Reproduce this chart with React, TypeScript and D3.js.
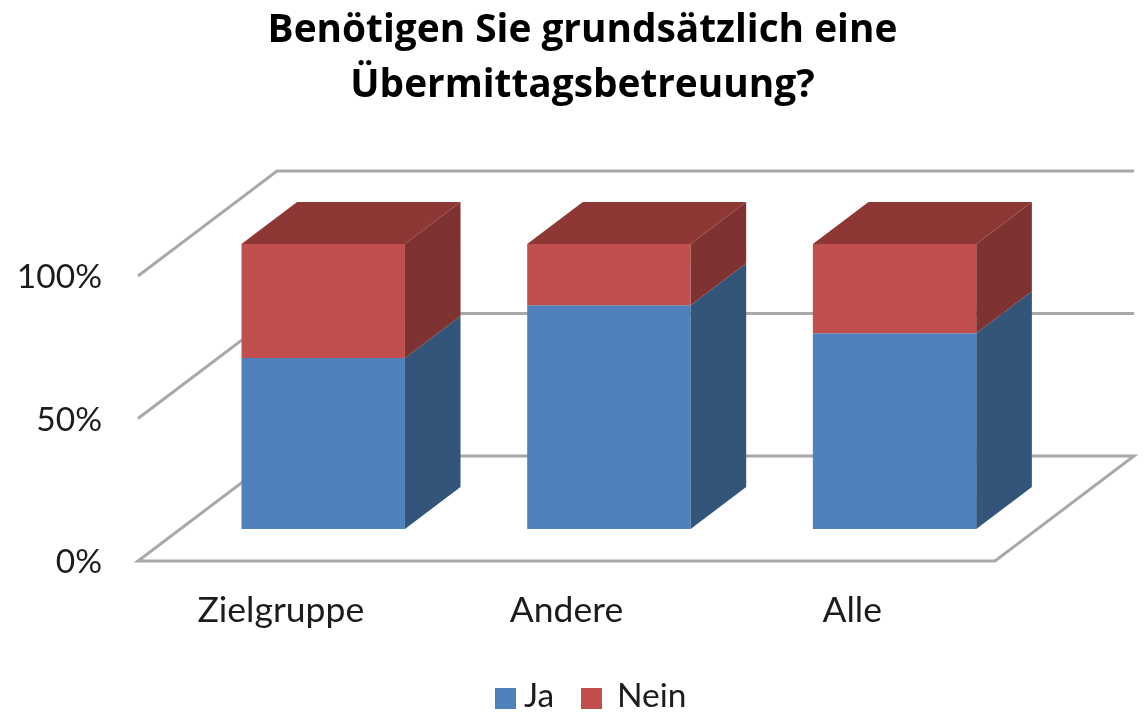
import React, { useEffect, useRef } from "react"
import * as d3 from "d3"

const categories = ["Zielgruppe", "Andere", "Alle"]
const seriesNames = ["Ja", "Nein"]
const jaValues = [60, 78.5, 68.7]
const neinValues = [40, 21.5, 31.3]
const yTicks = [0, 50, 100]
const titleLines = ["Benötigen Sie grundsätzlich eine", "Übermittagsbetreuung?"]

const colors: any = {
  Ja: { front: "#4f81bd", side: "#335479" },
  Nein: { front: "#c0504d", side: "#7f3230", top: "#8d3735" },
}
const gridColor = "#a9a9a9"
const textColor = "#1c1c1c"
const font = "Lato, 'Open Sans', sans-serif"

export default function App() {
  const ref = useRef<SVGSVGElement>(null)

  useEffect(() => {
    const root = d3.select(ref.current)
    root.selectAll("*").remove()

    // the reference is a slightly soft upscaled screenshot
    root.append("defs").append("filter").attr("id", "soft")
      .append("feGaussianBlur").attr("stdDeviation", 0.6)
    const svg = root.append("g").attr("filter", "url(#soft)")
    svg.append("rect").attr("width", 1146).attr("height", 714).attr("fill", "#fff")

    const x = d3.scaleBand().domain(categories).range([138, 995]).paddingInner(0.428).paddingOuter(0.214)
    const y = d3.scaleLinear().domain([0, 100]).range([561, 276])
    // oblique depth: 0 = front edge of the floor, 1 = back wall
    const dx = d3.scaleLinear().domain([0, 1]).range([0, 139])
    const dy = d3.scaleLinear().domain([0, 1]).range([0, -105])
    const pt = (px: number, v: number, d: number): [number, number] => [px + dx(d), y(v) + dy(d)]
    const line = d3.line()
    const barFront = 0.305
    const barBack = 0.705

    const rows = categories.map((c, i) => ({ category: c, Ja: jaValues[i], Nein: neinValues[i] }))
    const stacked = d3.stack().keys(seriesNames)(rows as any)

    const [x0, x1] = x.range()
    const grid = svg.append("g").attr("fill", "none").attr("stroke", gridColor).attr("stroke-width", 3)
    yTicks.forEach((t) => {
      if (t === 0) return
      grid.append("path").attr("d", line([pt(x0, t, 0), pt(x0, t, 1), pt(x1, t, 1)]))
    })
    grid.append("path").attr("d", line([pt(x0, 0, 1), pt(x0, 0, 0), pt(x1, 0, 0), pt(x1, 0, 1), pt(x0, 0, 1)]) + "Z")

    const bars = svg.append("g")
    stacked.forEach((layer: any) => {
      const name = layer.key
      layer.forEach((d: any) => {
        const left = x(d.data.category) as number
        const right = left + x.bandwidth()
        // front
        bars.append("path").attr("fill", colors[name].front)
          .attr("d", line([pt(left, d[0], barFront), pt(right, d[0], barFront), pt(right, d[1], barFront), pt(left, d[1], barFront)]) + "Z")
        // side
        bars.append("path").attr("fill", colors[name].side)
          .attr("d", line([pt(right, d[0], barFront), pt(right, d[0], barBack), pt(right, d[1], barBack), pt(right, d[1], barFront)]) + "Z")
        // top, only the last series shows it
        if (colors[name].top) {
          bars.append("path").attr("fill", colors[name].top)
            .attr("d", line([pt(left, d[1], barFront), pt(right, d[1], barFront), pt(right, d[1], barBack), pt(left, d[1], barBack)]) + "Z")
        }
      })
    })

    svg.append("g").selectAll("text").data(titleLines).join("text")
      .attr("x", 582.5)
      .attr("y", (_d, i) => 42 + i * 55)
      .attr("text-anchor", "middle")
      .attr("font-family", "'Open Sans', sans-serif")
      .attr("font-size", 38.8)
      .attr("font-weight", 700)
      .attr("fill", "#000")
      .text((d) => d)

    svg.append("g").selectAll("text").data(yTicks).join("text")
      .attr("x", 102)
      .attr("y", (d) => y(d) + 12)
      .attr("text-anchor", "end")
      .attr("font-size", 33.5)
      .attr("fill", textColor)
      .text((d) => d + "%")

    svg.append("g").selectAll("text").data(categories).join("text")
      .attr("x", (d) => (x(d) as number) + x.bandwidth() / 2)
      .attr("y", 622)
      .attr("text-anchor", "middle")
      .attr("font-size", 35.5)
      .attr("fill", textColor)
      .text((d) => d)

    const legendX = d3.scaleOrdinal<string, number>().domain(seriesNames).range([495, 581])
    const legend = svg.append("g").selectAll("g").data(seriesNames).join("g")
      .attr("transform", (d) => `translate(${legendX(d)},688)`)
    legend.append("rect").attr("width", 21).attr("height", 21).attr("fill", (d) => colors[d].front)
    legend.append("text").attr("x", (d) => (d === "Ja" ? 29 : 36)).attr("y", 19)
      .attr("font-size", 33.5).attr("fill", textColor).text((d) => d)
  }, [])

  return (
    <svg ref={ref} width={1146} height={714} fontFamily={font}
      style={{ position: "absolute", left: 0, top: 0, background: "#fff" }} />
  )
}
